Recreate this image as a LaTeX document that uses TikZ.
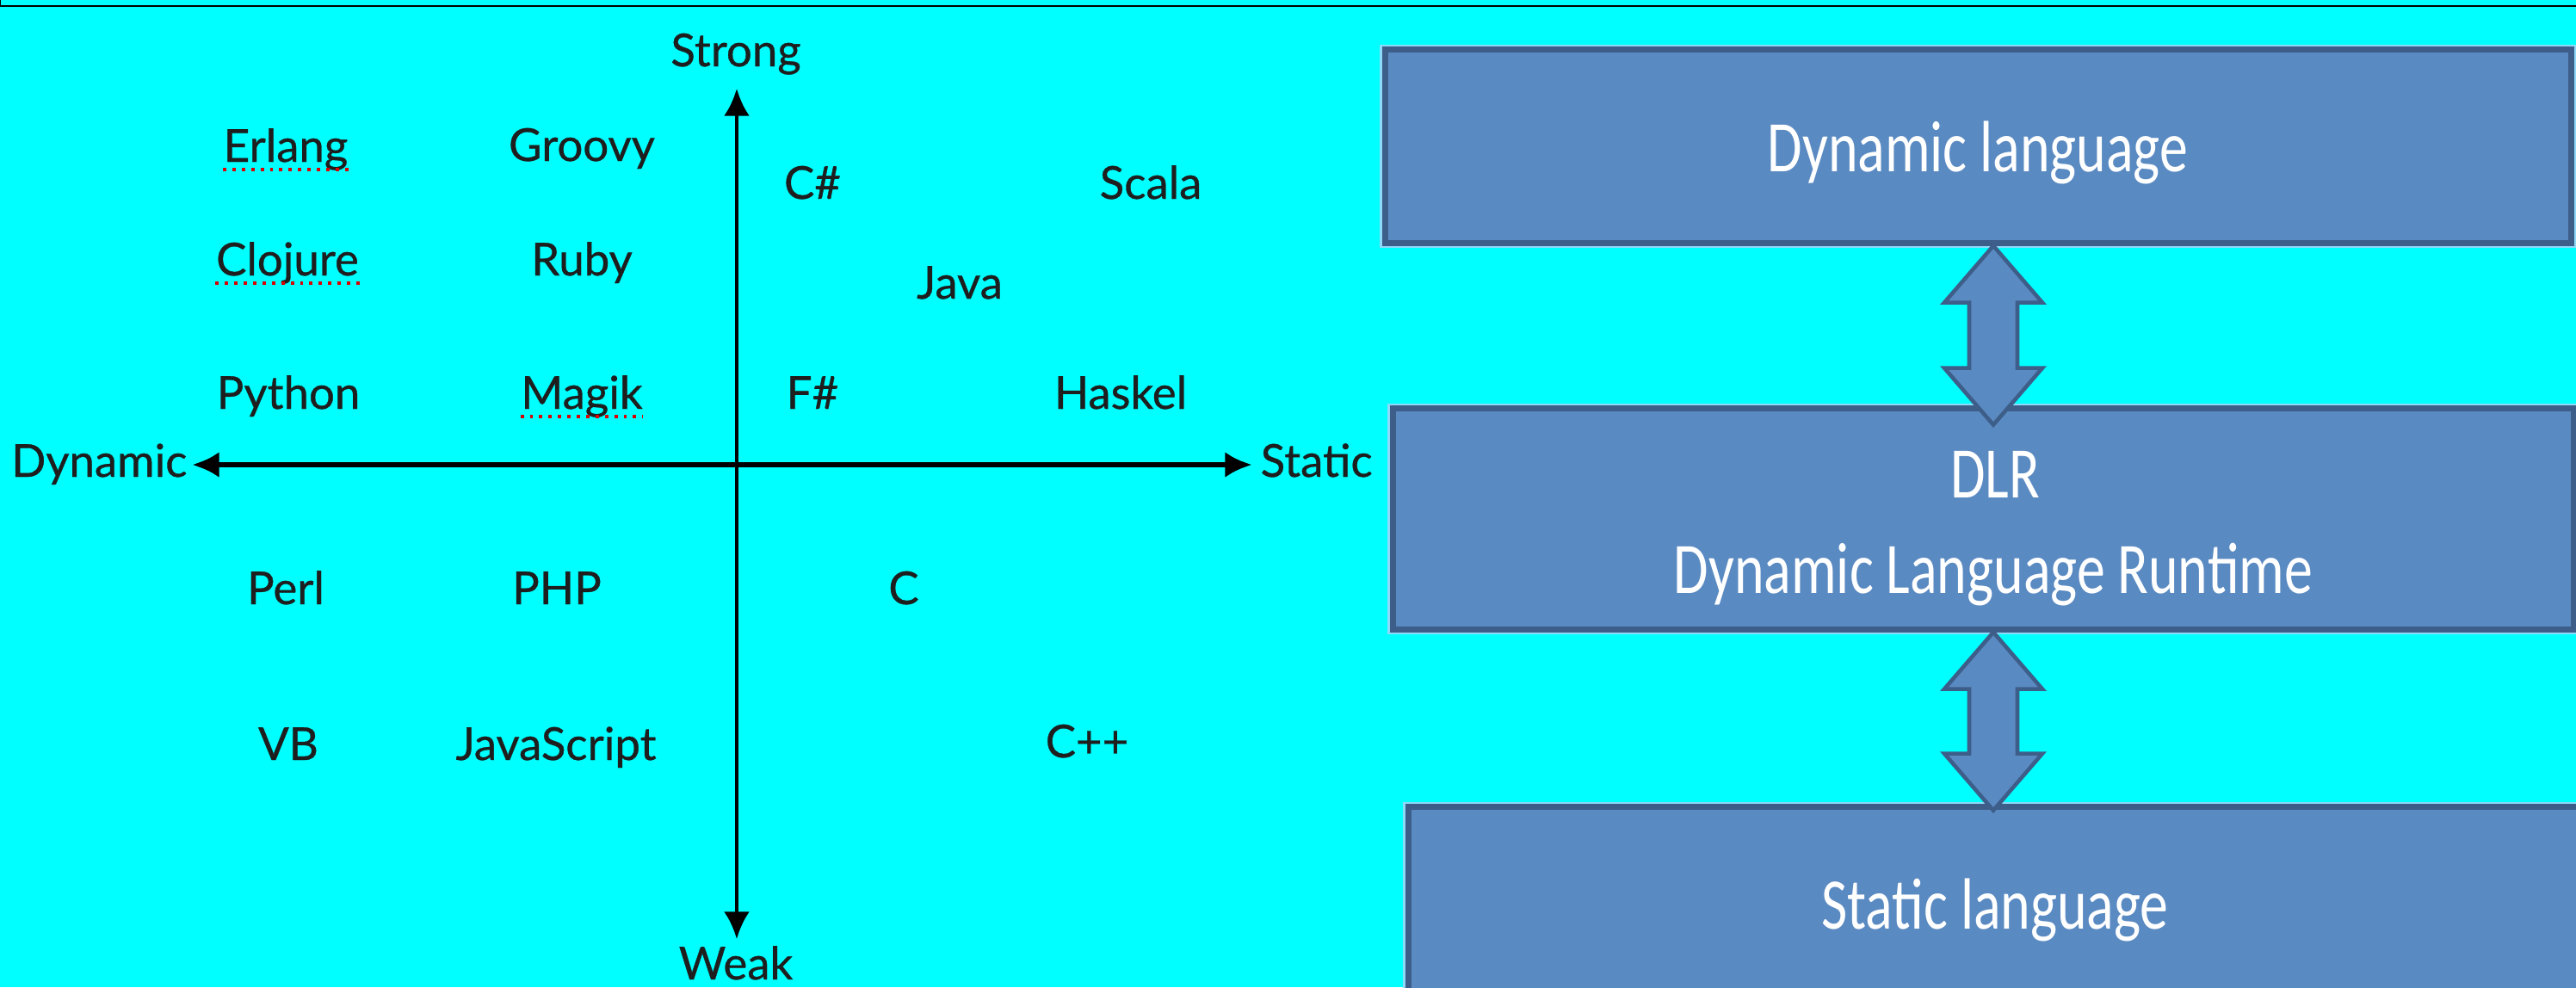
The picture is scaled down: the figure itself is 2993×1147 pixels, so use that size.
\documentclass[tikz,border=0pt]{standalone}
\usepackage{fontspec}
\usepackage{graphicx}
\setmainfont{Lato}
\newfontfamily\langfont{Lato}[FakeBold=0.6]
\newfontfamily\boxfont{Carlito}
\usetikzlibrary{arrows.meta}
\definecolor{bg}{RGB}{0,255,255}
\definecolor{boxblue}{RGB}{90,138,194}
\definecolor{boxdark}{RGB}{62,94,138}
\definecolor{ink}{RGB}{30,30,30}
\begin{document}
\begin{tikzpicture}[x=0.01cm,y=-0.01cm,
  lang/.style={anchor=base, inner sep=0pt, text=ink, font=\langfont\fontsize{15}{18}\selectfont},
  layer/.style={draw=boxdark, line width=2pt, fill=boxblue, inner sep=0pt,
    preaction={draw=white!55!cyan, line width=3.6pt}},
  boxtext/.style={anchor=base, inner sep=0pt, text=white, font=\boxfont\fontsize{24}{28}\selectfont},
  blockarrow/.style={fill=boxblue, draw=boxdark, line width=1.3pt, line join=miter},
  axis/.style={line width=1.3pt, draw=black, {Latex[length=9pt,width=8.5pt]}-{Latex[length=9pt,width=8.5pt]}},
  squiggle/.style={red!85!black, dotted, line width=1.1pt}]
\fill[bg] (0,0) rectangle (2993,1147);
\useasboundingbox (0,0) rectangle (2993,1147);
\draw[line width=0.7pt] (0,0) -- (0,7) -- (2993,7);

% axes
\coordinate (ytop) at (856,103);
\coordinate (ybot) at (856,1091);
\coordinate (xleft) at (223,540);
\coordinate (xright) at (1455,540);
\draw[axis] (ytop) -- (ybot);
\draw[axis, line width=1.8pt] (xleft) -- (xright);

\node[lang] (strong) at (855,77) {Strong};
\node[lang] (weak) at (855,1138) {Weak};
\node[lang, anchor=base east] (dynamic) at (218,554) {Dynamic};
\node[lang, anchor=base west] (static) at (1464,554) {Static};

% languages
\node[lang] (erlang) at (332,188) {Erlang};
\node[lang] (groovy) at (676,187) {Groovy};
\node[lang] (csharp) at (944,231) {C\#};
\node[lang] (scala) at (1337,231) {Scala};
\node[lang] (clojure) at (334,320) {Clojure};
\node[lang] (ruby) at (676,320) {Ruby};
\node[lang] (java) at (1115,347) {Java};
\node[lang] (python) at (335,475) {Python};
\node[lang] (magik) at (676,475) {Magik};
\node[lang] (fsharp) at (944,475) {F\#};
\node[lang] (haskel) at (1302,475) {Haskel};
\node[lang] (perl) at (332,702) {Perl};
\node[lang] (php) at (647,702) {PHP};
\node[lang] (clang) at (1050,702) {C};
\node[lang] (vb) at (335,883) {VB};
\node[lang] (js) at (646,883) {JavaScript};
\node[lang] (cpp) at (1263,880) {C++};

\draw[squiggle] ([yshift=-2.5pt]erlang.base west) -- ([yshift=-2.5pt]erlang.base east);
\draw[squiggle] ([yshift=-2.5pt]clojure.base west) -- ([yshift=-2.5pt]clojure.base east);
\draw[squiggle] ([yshift=-2.5pt]magik.base west) -- ([yshift=-2.5pt]magik.base east);

% layers
\node[layer, minimum width=13.77cm, minimum height=2.24cm] (box1) at (2298.5,170) {};
\node[layer, minimum width=13.71cm, minimum height=2.56cm] (box2) at (2304.5,603) {};
\node[layer, minimum width=13.60cm, minimum height=2.30cm] (box3) at (2317,1053) {};

\node[boxtext] (dyn) at (2298,199) {\scalebox{0.78}[1]{Dynamic language}};
\node[boxtext] (dlr) at (2318,578) {\scalebox{0.78}[1]{DLR}};
\node[boxtext] (dlrfull) at (2316,689) {\scalebox{0.78}[1]{Dynamic Language Runtime}};
\node[boxtext] (stat) at (2318,1079) {\scalebox{0.78}[1]{Static language}};

% block double arrows
\coordinate (ax) at (2316,0);
\draw[blockarrow] (box1.south -| ax) -- ++(57,66) -- ++(-29,0) -- ++(0,76) -- ++(29,0)
  -- ++(-57,66) -- ++(-57,-66) -- ++(29,0) -- ++(0,-76) -- ++(-29,0) -- cycle;
\draw[blockarrow] (box2.south -| ax) -- ++(57,66) -- ++(-29,0) -- ++(0,75) -- ++(29,0)
  -- ++(-57,66) -- ++(-57,-66) -- ++(29,0) -- ++(0,-75) -- ++(-29,0) -- cycle;
\end{tikzpicture}
\end{document}
